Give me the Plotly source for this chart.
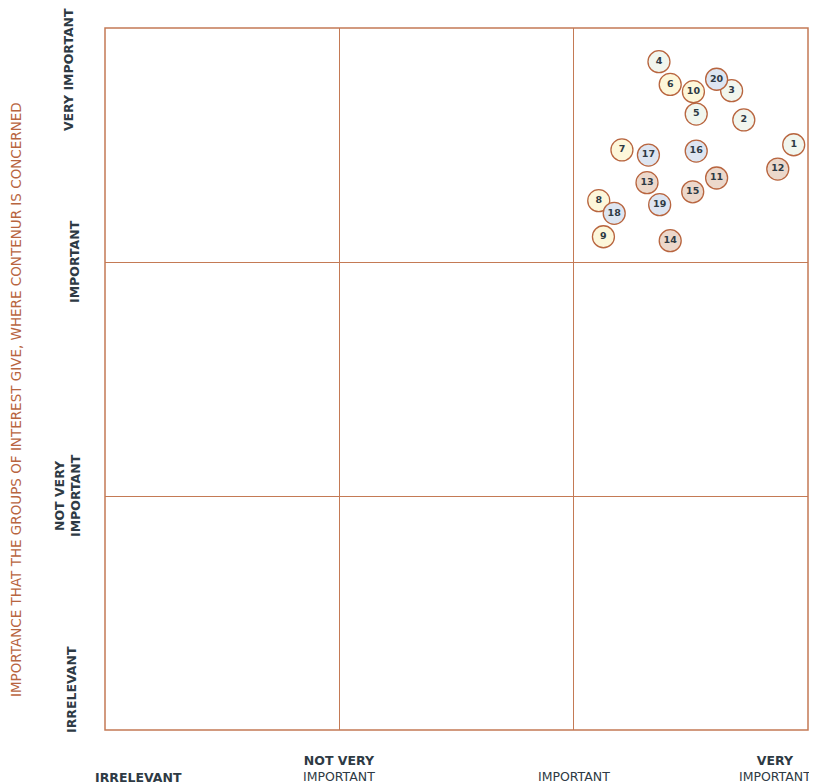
import plotly.graph_objects as go

# Data
ids = [str(i) for i in range(1, 21)]
x_vals = [2.939, 2.726, 2.674, 2.364, 2.523, 2.412, 2.206, 2.107, 2.127, 2.511,
          2.610, 2.871, 2.313, 2.412, 2.508, 2.523, 2.319, 2.173, 2.367, 2.610]
y_vals = [2.501, 2.607, 2.732, 2.856, 2.632, 2.759, 2.479, 2.262, 2.108, 2.728,
          2.359, 2.397, 2.339, 2.091, 2.300, 2.474, 2.457, 2.208, 2.245, 2.781]
groups = ["green", "green", "green", "green", "green",
          "yellow", "yellow", "yellow", "yellow", "yellow",
          "tan", "tan", "tan", "tan", "tan",
          "blue", "blue", "blue", "blue", "blue"]
group_colors = {"green": "#f1f6ee", "yellow": "#fdf7da", "tan": "#ecd8cb", "blue": "#dde5f1"}

x_tick_labels = ["<b>IRRELEVANT</b>", "<b>NOT VERY</b><br>IMPORTANT", "IMPORTANT", "<b>VERY</b><br>IMPORTANT"]
y_tick_labels = ["IRRELEVANT", "NOT VERY<br>IMPORTANT", "IMPORTANT", "VERY IMPORTANT"]
y_title = "IMPORTANCE THAT THE GROUPS OF INTEREST GIVE, WHERE CONTENUR IS CONCERNED"

FONT = "DejaVu Sans"
DARK = "#2e3a44"
BROWN = "#b8653f"

fig = go.Figure()
fig.add_trace(go.Scatter(
    x=x_vals, y=y_vals, mode="markers+text", text=ids,
    textposition="middle center",
    textfont=dict(family=FONT, size=9.5, color=DARK, weight="bold"),
    marker=dict(size=22, color=[group_colors[g] for g in groups],
                line=dict(color=BROWN, width=1.3), opacity=1),
    hoverinfo="text", showlegend=False, cliponaxis=False,
))

fig.update_xaxes(range=[0, 3], dtick=1, tick0=0, showticklabels=False, ticks="",
                 showgrid=True, gridcolor="#c47a55", gridwidth=1.2, zeroline=False,
                 showline=False, fixedrange=True)
fig.update_yaxes(range=[0, 3], dtick=1, tick0=0, showticklabels=False, ticks="",
                 showgrid=True, gridcolor="#c47a55", gridwidth=1.2, zeroline=False,
                 showline=False, fixedrange=True)

fig.add_shape(type="rect", xref="paper", yref="paper", x0=0, y0=0, x1=1, y1=1,
              line=dict(color="#c47a55", width=1.5), layer="above")

# x labels (bottom)
x_pos = [0.048, 1 / 3, 2 / 3, 0.953]
x_yshift = [-57, -56, -56, -56]
for xp, ys, lab in zip(x_pos, x_yshift, x_tick_labels):
    fig.add_annotation(x=xp, y=0, xref="paper", yref="paper", text=lab, showarrow=False,
                       xanchor="center", yanchor="bottom", yshift=ys,
                       font=dict(family=FONT, size=12.5, color=DARK), align="center")

# y labels (left)
y_pos = [0.057, 1 / 3, 2 / 3, 0.94]
y_xshift = [-33, -38, -31, -37]
for yp, xs, lab in zip(y_pos, y_xshift, y_tick_labels):
    fig.add_annotation(x=0, y=yp, xref="paper", yref="paper", text=lab, showarrow=False,
                       xanchor="center", yanchor="middle", xshift=xs, textangle=-90,
                       font=dict(family=FONT, size=12.5, color=DARK, weight="bold"),
                       align="center")

fig.add_annotation(x=0, y=0.470, xref="paper", yref="paper", text=y_title, showarrow=False,
                   xanchor="center", yanchor="middle", xshift=-89, textangle=-90,
                   font=dict(family=FONT, size=13.5, color="#b8653f"))

fig.update_layout(
    width=809, height=776,
    margin=dict(l=97, r=9, t=20, b=54),
    plot_bgcolor="white", paper_bgcolor="white",
    font=dict(family=FONT),
)

fig.write_html("out.html")
